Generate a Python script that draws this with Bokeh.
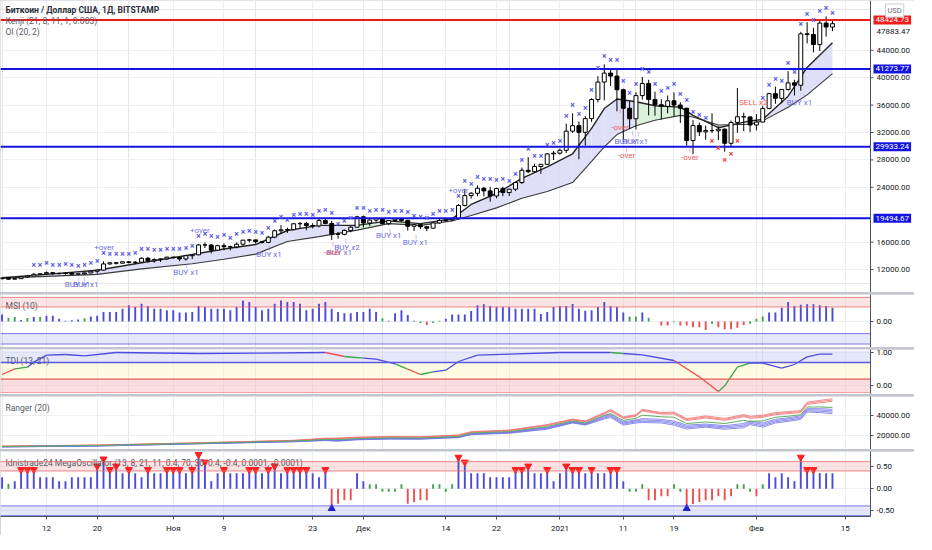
from bokeh.plotting import figure
from bokeh.layouts import column
from bokeh.models import (Range1d, FixedTicker, NumeralTickFormatter, Span, Label,
                          Grid, BoxAnnotation)
from bokeh.core.properties import value
from bokeh.embed import file_html
from bokeh.resources import INLINE

# ---------------- data (daily, 2020-10-05 .. 2021-02-13, x = day index) ----------------
first_open = 10670
closes = [10790,10600,10670,10920,11060,11300,11380,11550,11430,11430,11500,11330,11370,11510,11750,11920,12820,12990,12930,13130,13030,13070,13650,13280,13460,13560,13810,
          13760,13550,14020,14150,15590,15580,14830,15480,15330,15300,15700,16290,16330,16070,15960,16730,17660,17800,17820,18680,18720,18420,18370,19160,18730,17150,17140,17720,18180,19700,
          18790,19220,19450,18700,19150,19360,19170,18320,18550,18250,18040,18810,19170,19270,19440,21350,22800,23130,23860,23480,22740,23820,23240,23730,24700,26490,26280,27040,27360,28880,28990,
          29400,32200,33000,32030,34030,36820,39370,40670,40240,38240,35540,34010,37390,39160,36830,36050,35820,36630,36010,35550,30830,33010,32100,32290,32270,32490,30430,33470,34300,34280,33100,
          33530,35520,37670,36990,38290,39250,38900,46400,46300,44840,47970,47400,47880]
highs = [10800,10800,10700,10950,11100,11490,11440,11720,11560,11550,11630,11540,11420,11530,11800,12020,13200,13030,13030,13170,13160,13240,13780,13850,13630,13650,13870,
         13870,13820,14050,14240,15740,15960,15730,15630,15830,15470,15960,16320,16480,16340,16150,16900,17850,18480,18110,18810,18960,18950,18760,19410,19470,19110,17470,17860,18350,19840,
         19880,19320,19570,19510,19170,19420,19390,19280,18630,18560,18290,18940,19410,19350,19550,21560,23780,23290,24280,24080,24080,23950,24100,23780,24780,26880,28400,27450,27390,28990,29300,
         29650,33300,34800,33600,34400,37000,40230,41950,41350,41400,38400,36600,37870,40100,39700,37950,36850,37400,37850,36420,35600,33800,33450,33000,34800,32900,32600,33750,38500,34900,34300,
         34700,35900,37800,38700,38300,40950,39700,46700,48100,47300,48500,48950,48300]
lows = [10550,10530,10570,10650,10830,11050,11230,11260,11230,11260,11250,11220,11290,11280,11450,11420,11870,12700,12720,12890,12880,12790,13050,13030,13000,13110,13420,
        13580,13220,13300,13520,14100,15150,14350,14740,14810,14800,15100,15470,15970,15790,15800,15850,16560,17220,17340,17740,18050,17730,18000,18140,18620,16330,16510,17000,17440,18170,
        18110,18350,18950,18590,18480,18930,18930,17680,17620,17900,17600,17980,18720,19000,19060,19300,21230,22350,22700,22680,21900,22400,22720,22750,23450,24500,26080,26140,25970,27350,27980,
        28760,29000,31950,28100,30100,33550,36400,36700,38800,35100,30550,32500,32450,36800,34500,34450,33900,34800,34350,33400,30080,28850,31500,30950,31930,30880,29200,29990,31950,32200,32060,
        32300,33500,35400,36200,36270,38100,37400,38100,45000,43700,43900,46000,46800]

# Kenji band (knots)
kenji_x = [0,7,15,22,30,35,40,45,50,56,61,66,71,74,78,82,86,90,93,95,97,100,103,107,109,113,118,120,124,127,131]
kenji_fast = [10800,11300,11900,13000,14200,15000,15650,17700,18450,18450,19100,18700,19400,21500,23100,25300,27000,28900,32600,35500,36900,36500,35900,35700,34500,32700,33700,33900,37300,41500,45100]
kenji_slow = [10750,11000,11300,12100,12850,13500,14250,16100,16800,17750,18700,18450,19100,19900,21000,22400,23400,24700,27800,29900,31700,33000,33800,34500,34270,33100,33200,33700,35700,37500,40600]
kenji_fill = list("LLLLLLLLLGGGLLLLLLLLLGGGLLLLLL")

# OI cross markers per day: b = above (blue), r = below (red), - = none
cross_code = list("-----" + "b" * 107 + "rrrrr" + "---" + "b" * 12)

# signal texts
sig_x = [11.9, 13.2, 29, 16.1, 31.2, 42.1, 53.2, 52.1, 54.4, 61, 65.2, 72, 97.5, 98.6, 99.9, 98.5, 108.5, 118.5, 125.8]
sig_y = [9770, 9770, 11630, 15220, 17730, 14240, 14500, 14560, 15260, 16900, 15920, 23600, 32670, 30700, 30700, 28680, 28350, 36320, 36320]
sig_text = ["BUY x1", "BUY x1", "BUY x1", "+over", "+over", "BUY x1", "BUY x1", "-over", "BUY x2", "BUY x1", "BUY x1",
            "+over", "-over", "BUY x1", "BUY x1", "-over", "-over", "SELL x2", "BUY x1"]
# small signal ticks
tick_x = [12.1, 13.0, 29.1, 42.2, 53.1, 54.2, 61.2, 65.3, 99.5, 100.4, 126.5, 52.2, 97.5, 98.5, 108.5, 118.6]
tick_y = [10750, 10750, 12600, 15220, 15500, 16240, 17730, 16800, 31990, 31850, 37430, 15780, 35200, 29610, 29470, 35200]
tick_code = list("bbbbbbbbbbbrrrrr")

levels = [48424.73, 41273.77, 29933.24, 19494.67]
level_colors = ["#f01c1c", "#1414e0", "#1414e0", "#1414e0"]
last_price = 47883.47
price_ticks = [12000, 16000, 24000, 28000, 32000, 36000, 40000, 44000]
price_grid = [12000, 16000, 20000, 24000, 28000, 32000, 36000, 40000, 44000]

# MSI (10)
msi = [0.24,0.13,0.15,0.05,0.12,0.15,0.15,0.2,0.2,0.09,
       0.02,0.04,0.07,0.11,0.17,0.2,0.33,0.33,0.33,0.44,
       0.56,0.5,0.61,0.53,0.44,0.44,0.39,0.39,0.31,0.31,
       0.33,0.53,0.5,0.44,0.44,0.44,0.39,0.5,0.72,0.67,
       0.5,0.39,0.44,0.61,0.72,0.67,0.67,0.61,0.39,0.44,
       0.61,0.67,0.44,0.33,0.28,0.28,0.33,0.33,0.44,0.33,
       0.11,0.02,0.28,0.39,0.22,0.02,-0.05,-0.12,-0.05,0.02,
       0.09,0.24,0.24,0.24,0.36,0.56,0.59,0.53,0.5,0.5,
       0.5,0.44,0.44,0.44,0.44,0.26,0.33,0.5,0.53,0.53,
       0.6,0.44,0.37,0.39,0.5,0.67,0.53,0.5,0.31,0.17,
       0.17,0.31,0.13,0.0,-0.14,-0.14,-0.03,-0.14,-0.14,-0.2,
       -0.2,-0.3,-0.08,-0.2,-0.27,-0.27,-0.22,-0.12,-0.08,0.09,
       0.17,0.31,0.31,0.47,0.67,0.53,0.58,0.59,0.59,0.56,
       0.53,0.47]
msi_col = list("bggbgbgbbbbbbgbb" + "b" * 44 + "gbbbbbgrggb" + "b" * 28 + "ggbgg" + "rrgrrrrrgrrrrrggg" + "b" * 11)

# TDI (13, 21) knots
tdi_x = [0,2,4,5,7,10,13,18,31,41,51,54,57,59,62,64,66,68,70,72,75,80,88,96,98,101,106,110,113,114,116,118,120,123,125,127,129,131]
tdi_v = [0.34,0.51,0.56,0.71,0.92,0.94,0.9,1.0,0.97,0.98,1.0,0.88,0.83,0.8,0.66,0.5,0.34,0.42,0.47,0.73,0.92,0.95,1.0,1.0,0.97,0.93,0.76,0.27,-0.17,0.0,0.56,0.68,0.68,0.53,0.64,0.87,0.95,0.95]
tdi_col = list("rgb" + "bbbbbbb" + "rgbbgrgbbbbbbgbbrrgggb" + "bbbbb")

# Ranger (20) knots
rng_x = [0,15,30,46,51,53,56,61,66,72,74,80,86,90,92,95,96,98,100,101,104,106,108,111,114,117,118,120,122,124,126,127,129,131]
rng_red_top = [10300,11300,13400,15900,17900,18000,18900,19500,19300,21000,24200,25800,31000,36300,34500,42500,45700,38400,40500,45700,42500,43100,36700,39300,37000,40600,39000,40000,42500,43500,44500,52600,54300,55800]
rng_red_bot = [10000,11000,13000,15400,17200,17400,18200,18900,18800,20300,23400,25000,30000,35400,33500,41200,43600,36800,39000,44100,41000,41200,34800,37300,35000,38600,37000,38000,40500,41500,42500,50300,51900,53400]
rng_mid = [9900,10800,12800,15100,16600,16500,17500,18200,18100,19500,22800,24300,29000,34600,32500,40000,41500,35000,37000,40000,38500,38000,32000,33500,32000,35000,34000,34500,38000,39000,40500,47900,47900,47500]
rng_blue_top = [9800,10700,12700,15000,16300,16000,17200,17800,17700,19300,22300,23900,28300,34000,32000,39300,40800,33600,35500,36700,36000,34300,30500,31500,30000,32000,34500,32500,36000,37500,39500,46300,46300,45700]
rng_blue_bot = [9400,10300,12300,14400,15600,15000,16300,17000,16900,18400,21300,22600,26500,32500,30500,36400,37800,30500,32500,33000,32500,30500,26700,28500,26500,27900,31000,28500,32500,34000,36000,43100,42500,41500]

# MegaOscillator
mega = [0.26,0.11,0.17,0.43,0.43,0.43,0.26,0.26,0.26,0.17,
        0.17,0.26,0.26,0.26,0.26,0.51,0.67,0.43,0.51,0.35,
        0.43,0.35,0.26,0.43,0.35,0.35,0.43,0.43,0.43,0.35,
        0.43,0.77,0.6,0.17,0.35,0.43,0.35,0.35,0.35,0.43,
        0.43,0.35,0.43,0.51,0.35,0.43,0.43,0.43,0.43,0.35,
        0.26,0.43,-0.45,-0.34,-0.26,-0.26,0.35,0.17,0.1,0.1,
        -0.07,-0.07,-0.07,0.1,-0.34,-0.3,-0.26,-0.26,0.1,0.1,
        -0.07,0.1,0.71,0.6,0.35,0.35,0.35,0.26,0.26,0.26,
        0.26,0.43,0.43,0.51,0.35,0.35,0.43,0.17,0.35,0.51,
        0.43,0.43,0.35,0.43,0.35,0.35,0.43,0.43,0.17,-0.07,
        -0.07,0.1,-0.26,-0.26,-0.17,-0.17,0.1,-0.07,-0.45,-0.35,
        -0.3,-0.26,-0.26,-0.17,-0.26,-0.17,0.1,0.1,-0.07,-0.17,
        0.1,0.35,0.26,0.35,0.26,0.17,0.71,0.43,0.43,0.35,
        0.35,0.35]

x_ticks = [7, 15, 27, 35, 49, 57, 70, 78, 88, 98, 106, 119, 133]
x_tick_labels = ["12", "20", "Ноя", "9", "23", "Дек", "14", "22", "2021", "11", "19", "Фев", "15"]

# ---------------- styling ----------------
FW = 870          # plot-area width
AXW = 44          # price-scale width
FONT = "Roboto"
BLUE = "#4b4bdc"
RED = "#ef4f4f"
GREEN = "#3fa34d"
GRIDC = "#eceef2"
AXC = "#50535e"
TXT = "#131722"
X0, X1 = -0.25, 137.0
XR = Range1d(X0, X1)
colmap = {"b": BLUE, "r": RED, "g": GREEN}


def panel(h, y0, y1, yticks, show_x=False, title=None):
    p = figure(frame_width=FW, frame_height=h, x_range=XR, y_range=Range1d(y0, y1),
               y_axis_location="right", x_axis_location="below" if show_x else None,
               toolbar_location=None, output_backend="svg",
               min_border_left=0, min_border_right=AXW, min_border_top=0, min_border_bottom=0)
    p.outline_line_color = None
    p.background_fill_color = "white"
    p.border_fill_color = "white"
    ya = p.yaxis[0]
    ya.ticker = FixedTicker(ticks=yticks)
    ya.formatter = NumeralTickFormatter(format="0.00")
    ya.major_label_text_font_size = "8px"
    ya.major_label_text_font = FONT
    ya.major_label_text_color = TXT
    ya.minor_tick_line_color = None
    ya.major_tick_out = 3
    ya.major_tick_in = 0
    ya.axis_line_color = AXC
    ya.major_tick_line_color = AXC
    ya.major_label_standoff = 3
    p.ygrid.ticker = FixedTicker(ticks=yticks)
    p.ygrid.grid_line_color = GRIDC
    if show_x:
        xa = p.xaxis[0]
        xa.ticker = FixedTicker(ticks=x_ticks)
        xa.major_label_overrides = {t: s for t, s in zip(x_ticks, x_tick_labels)}
        xa.major_label_text_font_size = "8px"
        xa.major_label_text_font = FONT
        xa.major_label_text_color = TXT
        xa.minor_tick_line_color = None
        xa.major_tick_out = 3
        xa.major_tick_in = 0
        xa.axis_line_color = AXC
        xa.major_tick_line_color = AXC
        xa.major_label_standoff = 4
        p.xgrid.ticker = FixedTicker(ticks=x_ticks)
        p.xgrid.grid_line_color = GRIDC
    else:
        p.add_layout(Grid(dimension=0, ticker=FixedTicker(ticks=x_ticks), grid_line_color=GRIDC))
    if title:
        p.add_layout(Label(x=5, y=h - 11, x_units="screen", y_units="screen", text=title,
                           text_font=FONT, text_font_size="8.5px", text_color="#555a66",
                           text_baseline="middle"))
    return p


def band(p, lo, hi, fill, line, alpha=0.35):
    p.add_layout(BoxAnnotation(bottom=lo, top=hi, fill_color=fill, fill_alpha=alpha,
                               line_color=None, level="underlay"))
    for v in (lo, hi):
        p.add_layout(Span(location=v, dimension="width", line_color=line, line_width=1,
                          line_alpha=0.8))


N = len(closes)
idx = list(range(N))
opens = [first_open] + closes[:-1]

# ---------------- main price panel (price scale drawn inside an extended frame) ----------------
MAIN_H = 292
PY0, PY1 = 8650, 51270
XEND = X0 + (X1 - X0) * (FW + AXW) / FW
main = figure(frame_width=FW + AXW, frame_height=MAIN_H, x_range=Range1d(X0, XEND),
              y_range=Range1d(PY0, PY1), x_axis_location=None, y_axis_location=None,
              toolbar_location=None, output_backend="svg",
              min_border_left=0, min_border_right=0, min_border_top=0, min_border_bottom=0)
main.outline_line_color = None
main.background_fill_color = "white"
main.border_fill_color = "white"
main.add_layout(Grid(dimension=0, ticker=FixedTicker(ticks=x_ticks), grid_line_color=GRIDC))
main.add_layout(Grid(dimension=1, ticker=FixedTicker(ticks=price_grid), grid_line_color=GRIDC))

# Kenji band fill
for j in range(len(kenji_x) - 1):
    c = "#d9d9f6" if kenji_fill[j] == "L" else "#d5efd5"
    main.varea(x=kenji_x[j:j + 2], y1=kenji_slow[j:j + 2], y2=kenji_fast[j:j + 2],
               fill_color=c, fill_alpha=0.85)
main.line(kenji_x, kenji_slow, line_color="#3a3a3a", line_width=1.1)
main.line(kenji_x, kenji_fast, line_color="#262626", line_width=1.4)

# candles
main.segment(x0=idx, y0=lows, x1=idx, y1=highs, line_color="black", line_width=1)
body_top = [max(o, c) for o, c in zip(opens, closes)]
body_bot = [min(o, c) for o, c in zip(opens, closes)]
body_fill = ["white" if c >= o else "black" for o, c in zip(opens, closes)]
main.vbar(x=idx, top=body_top, bottom=body_bot, width=0.62, fill_color=body_fill,
          line_color="black", line_width=1)

# level lines (plot area only)
main.segment(x0=[X0] * len(levels), x1=[X1] * len(levels), y0=levels, y1=levels,
             line_color=level_colors, line_width=2)

# cross markers
bx = [i for i in idx if cross_code[i] == "b"]
by = [highs[i] for i in bx]
rx = [i for i in idx if cross_code[i] == "r"]
ry = [lows[i] for i in rx]
main.text(x=bx, y=by, text=["×"] * len(bx), text_color="#5a5aea", text_font=value(FONT),
          text_font_size=value("8.5px"), text_font_style="bold", text_align="center",
          text_baseline="bottom", y_offset=-3)
main.text(x=rx, y=ry, text=["×"] * len(rx), text_color="#ee3b3b", text_font=value(FONT),
          text_font_size=value("8.5px"), text_font_style="bold", text_align="center",
          text_baseline="top", y_offset=3)

# signal texts and ticks
sig_col = ["#ef5a5a" if (t.startswith("-") or t.startswith("SELL")) else "#6f6fe0" for t in sig_text]
main.text(x=sig_x, y=sig_y, text=sig_text, text_color=sig_col, text_font=value(FONT),
          text_font_size=value("8px"), text_align="center", text_baseline="middle")
main.text(x=tick_x, y=tick_y, text=["|"] * len(tick_x),
          text_color=["#7a7ae6" if c == "b" else "#ef5a5a" for c in tick_code],
          text_font=value(FONT), text_font_size=value("6px"), text_align="center",
          text_baseline="middle")

# price scale area
main.quad(left=[X1], right=[XEND], bottom=[PY0], top=[PY1], fill_color="white", line_color=None)
main.segment(x0=[X1], x1=[X1], y0=[PY0], y1=[PY1], line_color=AXC, line_width=1)
main.ray(x=[X1] * len(price_ticks), y=price_ticks, length=3, length_units="screen", angle=0,
         line_color=AXC)
main.text(x=[X1] * len(price_ticks), y=price_ticks, text=[f"{t:.2f}" for t in price_ticks],
          x_offset=6, text_align="left", text_baseline="middle", text_color=TXT,
          text_font=value(FONT), text_font_size=value("8px"))
main.text(x=[X1], y=[last_price], text=[f"{last_price:.2f}"], x_offset=6, y_offset=8,
          text_align="left", text_baseline="middle", text_color=TXT,
          text_font=value(FONT), text_font_size=value("8px"))
main.text(x=[X1] * len(levels), y=levels, text=[f"{v:.2f}" for v in levels], x_offset=3,
          text_align="left", text_baseline="middle", text_color="white",
          background_fill_color=level_colors, padding=2,
          text_font=value(FONT), text_font_size=value("8px"))
main.text(x=[X1], y=[PY1], text=["USD"], x_offset=15, y_offset=10, text_align="left",
          text_baseline="middle", text_color="#6a6d78", background_fill_color="white",
          border_line_color="#c9ccd3", padding=2,
          text_font=value(FONT), text_font_size=value("7.5px"))

# titles
main.add_layout(Label(x=5, y=MAIN_H - 9, x_units="screen", y_units="screen",
                      text="Биткоин / Доллар США, 1Д, BITSTAMP", text_font=FONT,
                      text_font_size="8.5px", text_font_style="bold", text_color="#2a2e39",
                      text_baseline="middle"))
main.add_layout(Label(x=5, y=MAIN_H - 20, x_units="screen", y_units="screen",
                      text="Kenji (21, 8, 11, 1, 0.003)", text_font=FONT,
                      text_font_size="8.5px", text_color="#555a66", text_baseline="middle"))
main.add_layout(Label(x=5, y=MAIN_H - 31, x_units="screen", y_units="screen",
                      text="OI (20, 2)", text_font=FONT,
                      text_font_size="8.5px", text_color="#555a66", text_baseline="middle"))

# ---------------- MSI panel ----------------
msi_p = panel(53, -0.9, 0.93, [0.0], title="MSI (10)")
band(msi_p, 0.5, 0.83, "#f7b2b2", "#e86a6a")
band(msi_p, -0.78, -0.42, "#b9b9f2", "#5a5ae0")
msi_p.vbar(x=idx, top=msi, bottom=0, width=0.3, fill_color=[colmap[c] for c in msi_col],
           line_color=None)

# ---------------- TDI panel ----------------
tdi_p = panel(45, -0.26, 1.09, [0.0, 1.0], title="TDI (13, 21)")
tdi_p.add_layout(BoxAnnotation(bottom=0.7, top=1.05, fill_color="#c9c9f5", fill_alpha=0.45,
                               line_color=None, level="underlay"))
tdi_p.add_layout(BoxAnnotation(bottom=0.2, top=0.7, fill_color="#fff6c2", fill_alpha=0.45,
                               line_color=None, level="underlay"))
tdi_p.add_layout(BoxAnnotation(bottom=-0.2, top=0.2, fill_color="#f7b8b8", fill_alpha=0.45,
                               line_color=None, level="underlay"))
tdi_p.add_layout(Span(location=0.7, dimension="width", line_color="#5a5ae0", line_width=1.5))
tdi_p.add_layout(Span(location=0.2, dimension="width", line_color="#e05a5a", line_width=1.2))
tdi_p.add_layout(Span(location=-0.2, dimension="width", line_color="#f3a0a0", line_width=1))
tdi_p.multi_line(xs=[tdi_x[j:j + 2] for j in range(len(tdi_x) - 1)],
                 ys=[tdi_v[j:j + 2] for j in range(len(tdi_x) - 1)],
                 line_color=[colmap[c] for c in tdi_col], line_width=1.3)

# ---------------- Ranger panel ----------------
rng_p = panel(53, 7000, 58000, [20000, 40000], title="Ranger (20)")
red_mid = [(a + b) / 2 for a, b in zip(rng_red_top, rng_red_bot)]
for ys in (rng_red_top, red_mid, rng_red_bot):
    rng_p.line(rng_x, ys, line_color="#f07070", line_width=0.8)
for k in range(4):
    ys = [t + (b - t) * k / 3 for t, b in zip(rng_blue_top, rng_blue_bot)]
    rng_p.line(rng_x, ys, line_color="#7070ea", line_width=0.8)
rng_p.line(rng_x, rng_mid, line_color="#5fae5f", line_width=1)

# ---------------- MegaOscillator panel ----------------
mega_p = panel(65, -0.63, 0.84, [-0.5, 0.0, 0.5], show_x=True,
               title="Idnistrade24 MegaOscillator (13, 8, 21, 11, 0.4, 70, 30, 0.4, -0.4, 0.0001, -0.0001)")
band(mega_p, 0.4, 0.61, "#f7b2b2", "#e86a6a")
band(mega_p, -0.61, -0.39, "#b9b9f2", "#5a5ae0")
mega_col = [BLUE if v >= 0.15 else (RED if v <= -0.15 else GREEN) for v in mega]
mega_p.vbar(x=idx, top=mega, bottom=0, width=0.3, fill_color=mega_col, line_color=None)
tx = [i for i in idx if mega[i] >= 0.4]
mega_p.scatter(x=tx, y=[mega[i] for i in tx], marker="inverted_triangle", size=7,
               fill_color="#ff1f1f", line_color="#ff1f1f")
ux = [i for i in idx if mega[i] <= -0.4]
mega_p.scatter(x=ux, y=[mega[i] for i in ux], marker="triangle", size=7,
               fill_color="#2222cc", line_color="#2222cc")

layout = column(main, msi_p, tdi_p, rng_p, mega_p, spacing=2,
                styles={"background-color": "#c3c6ce"})

open("out.html", "w").write(file_html(layout, INLINE, title="BTCUSD"))
